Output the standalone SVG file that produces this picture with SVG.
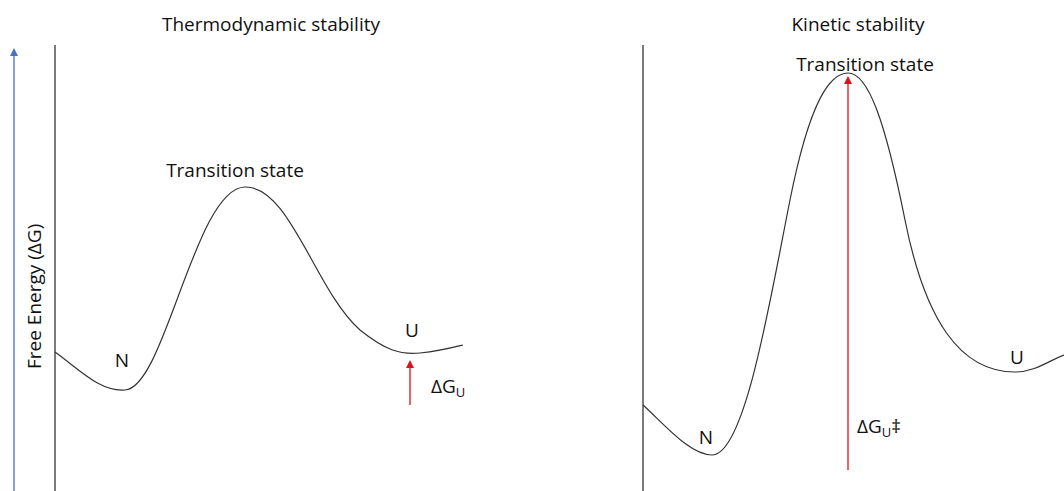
<svg xmlns="http://www.w3.org/2000/svg" width="1064" height="491" viewBox="0 0 1064 491">
<style>
text{font-family:"Open Sans","Liberation Sans",sans-serif;font-size:19px;fill:#111}
.frame{stroke:#333;stroke-width:1.3;fill:none}
.curve{stroke:#333;stroke-width:1.2;fill:none}
.red{stroke:#d9141c;stroke-width:1.3;fill:none}
</style>
<defs>
<marker id="ab" markerWidth="8" markerHeight="8" refX="4" refY="4" orient="auto" markerUnits="userSpaceOnUse"><path d="M0,0 L8,4 L0,8 Z" fill="#4472c4"/></marker>
<marker id="ar" markerWidth="8" markerHeight="8" refX="4" refY="4" orient="auto" markerUnits="userSpaceOnUse"><path d="M0,0 L8,4 L0,8 Z" fill="#d9141c"/></marker>
</defs>
<rect width="1064" height="491" fill="#fff"/>
<g id="axis">
<line x1="14" y1="491" x2="14" y2="52" stroke="#4472c4" stroke-width="1.3" marker-end="url(#ab)"/>
<text transform="translate(41,369) rotate(-90)">Free Energy (ΔG)</text>
</g>
<g id="left-panel">
<text x="271" y="31" text-anchor="middle">Thermodynamic stability</text>
<line class="frame" x1="55" y1="45" x2="55" y2="491"/>
</g>
<g id="right-panel">
<text x="858" y="31" text-anchor="middle">Kinetic stability</text>
<line class="frame" x1="643" y1="45" x2="643" y2="491"/>
</g>
<g id="connectors">
<path class="curve" d="M55,352 C80,370 100,392 125,390 C165,388 195,188 245,187 C290,186 315,290 360,330 C385,350 400,355 420,353 C440,351 455,347 463,345"/>
<path class="curve" d="M643,405 C665,425 690,455 712,455 C745,455 770,300 790,200 C810,100 830,73 848,73 C868,73 885,120 905,220 C925,320 960,372 1015,372 C1035,372 1050,360 1064,355"/>
<line class="red" x1="410" y1="405" x2="410" y2="364" marker-end="url(#ar)"/>
<line class="red" x1="848" y1="470" x2="848" y2="80" marker-end="url(#ar)"/>
</g>
<g id="left-N"><text x="122" y="367" text-anchor="middle">N</text></g>
<g id="left-TS"><text x="235" y="177" text-anchor="middle">Transition state</text></g>
<g id="left-U"><text x="412" y="337" text-anchor="middle">U</text></g>
<g id="left-dG"><text x="431" y="393">ΔG<tspan font-size="13" dy="4">U</tspan></text></g>
<g id="right-N"><text x="706" y="444" text-anchor="middle">N</text></g>
<g id="right-TS"><text x="865" y="71" text-anchor="middle">Transition state</text></g>
<g id="right-U"><text x="1017" y="364" text-anchor="middle">U</text></g>
<g id="right-dG"><text x="857" y="433">ΔG<tspan font-size="13" dy="4">U</tspan><tspan dy="-4">‡</tspan></text></g>
</svg>
